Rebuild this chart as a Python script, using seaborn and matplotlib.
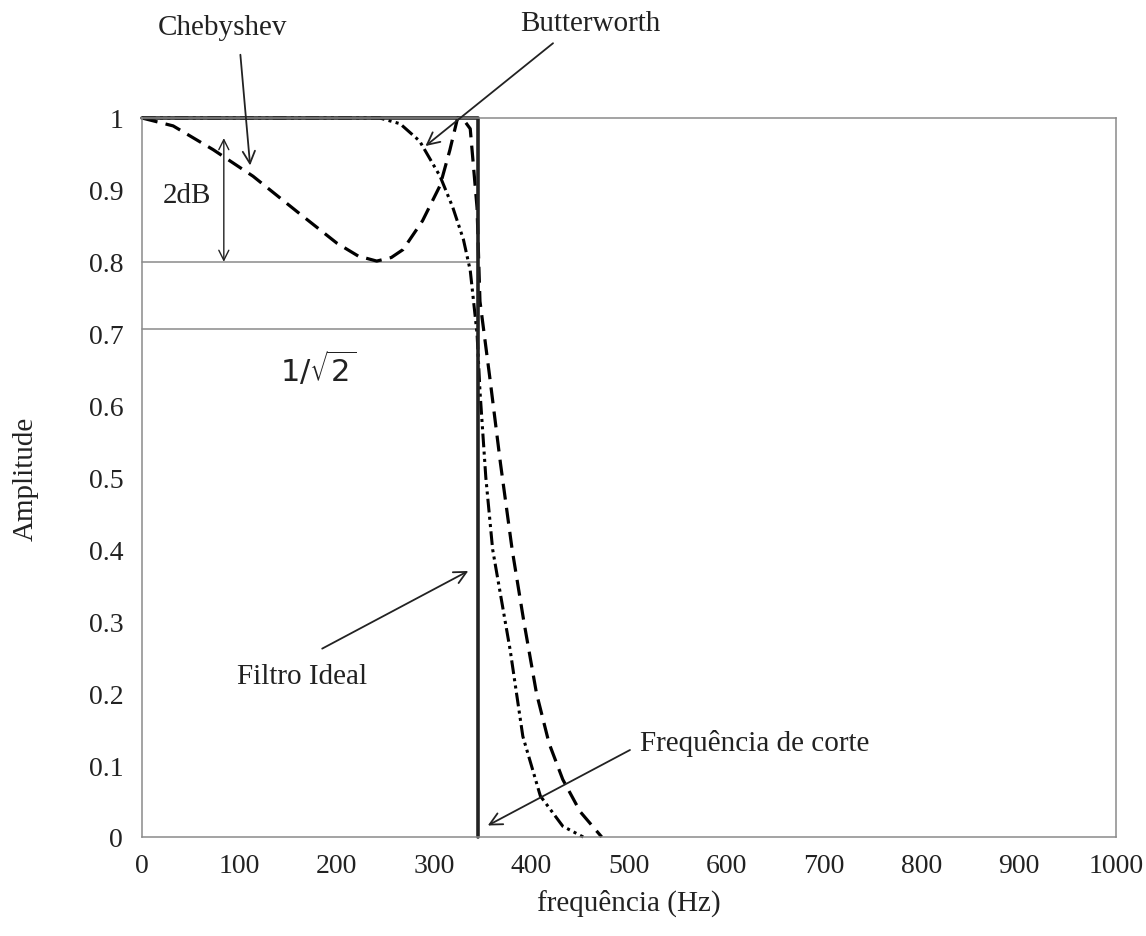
import numpy as np
import pandas as pd
import matplotlib
matplotlib.use("Agg")
import matplotlib.pyplot as plt
import seaborn as sns

# ---------------- data ----------------
cheb_freq = [0, 32, 73, 114, 159, 200, 222, 241, 256, 268, 288, 306, 316, 324,
             330, 337, 344, 347, 357, 368, 380, 392, 405, 418, 432, 450, 472]
cheb_amp = [1.0, 0.989, 0.956, 0.919, 0.870, 0.826, 0.808, 0.801, 0.806, 0.817,
            0.857, 0.906, 0.955, 1.0, 0.998, 0.985, 0.875, 0.745, 0.640, 0.52,
            0.40, 0.30, 0.20, 0.13, 0.08, 0.035, 0.0]

butt_freq = [0, 120, 244, 265, 285, 306, 319, 330, 337, 344, 347, 353, 360,
             378, 391, 409, 432, 453]
butt_amp = [1.0, 1.0, 1.0, 0.992, 0.968, 0.919, 0.876, 0.831, 0.788, 0.70,
            0.62, 0.50, 0.40, 0.26, 0.14, 0.057, 0.015, 0.0]

ideal_freq = [0, 345, 345]
ideal_amp = [1.0, 1.0, 0.0]

cutoff = 345
ref_levels = [0.8, 1 / np.sqrt(2)]

x_ticks = [0, 100, 200, 300, 400, 500, 600, 700, 800, 900, 1000]
y_ticks = [0, 0.1, 0.2, 0.3, 0.4, 0.5, 0.6, 0.7, 0.8, 0.9, 1.0]
y_ticklabels = ["0", "0.1", "0.2", "0.3", "0.4", "0.5", "0.6", "0.7", "0.8", "0.9", "1"]

df = pd.concat([
    pd.DataFrame({"freq": butt_freq, "amp": butt_amp, "filtro": "Butterworth"}),
    pd.DataFrame({"freq": cheb_freq, "amp": cheb_amp, "filtro": "Chebyshev"}),
    pd.DataFrame({"freq": ideal_freq, "amp": ideal_amp, "filtro": "Ideal"}),
], ignore_index=True)

# ---------------- style ----------------
sns.set_style("white")
plt.rcParams["font.family"] = ["Liberation Serif", "DejaVu Serif"]
plt.rcParams["mathtext.fontset"] = "dejavusans"

fig = plt.figure(figsize=(11.46, 9.37), dpi=100)
ax = fig.add_axes([142 / 1146, 1 - 838 / 937, (1116 - 142) / 1146, (838 - 119) / 937])

grey = "#8a8a8a"

# reference lines (2 dB and 1/sqrt(2))
for lvl in ref_levels:
    ax.plot([0, cutoff], [lvl, lvl], color=grey, lw=1.1, zorder=1)

sns.lineplot(data=df, x="freq", y="amp", hue="filtro", style="filtro",
             hue_order=["Butterworth", "Chebyshev", "Ideal"],
             style_order=["Butterworth", "Chebyshev", "Ideal"],
             palette={"Ideal": "#222222", "Chebyshev": "black", "Butterworth": "black"},
             dashes={"Ideal": "", "Chebyshev": (5, 2.6),
                     "Butterworth": (4.5, 1.4, 1.0, 1.4, 1.0, 1.4)},
             size="filtro", sizes={"Ideal": 2.6, "Chebyshev": 2.3, "Butterworth": 2.2},
             estimator=None, sort=False, legend=False, ax=ax)
for ln in ax.get_lines():
    ln.set_clip_on(False)

ax.set_xlim(0, 1000)
ax.set_ylim(0, 1)
ax.set_xticks(x_ticks)
ax.set_xticklabels([str(v) for v in x_ticks])
ax.set_yticks(y_ticks)
ax.set_yticklabels(y_ticklabels)

for sp in ax.spines.values():
    sp.set_visible(True)
    sp.set_color(grey)
    sp.set_linewidth(1.1)

ax.tick_params(axis="both", direction="inout", length=11, width=1.1, color=grey,
               labelsize=20, labelcolor="#222222")
ax.tick_params(axis="x", pad=6)
ax.tick_params(axis="y", pad=8)

ax.set_xlabel("frequência (Hz)", fontsize=21, color="#222222", labelpad=8)
ax.set_ylabel("Amplitude", fontsize=21, color="#222222", labelpad=36)

# ---------------- annotations ----------------
txt_kw = dict(fontsize=21, color="#222222", ha="center", va="center")
arr_kw = dict(arrowstyle="->", color="#222222", lw=1.3, mutation_scale=22,
              shrinkA=0, shrinkB=0)

ax.text(83, 1.126, "Chebyshev", **txt_kw, clip_on=False)
ax.annotate("", xy=(111, 0.934), xytext=(101, 1.088), arrowprops=arr_kw,
            annotation_clip=False)

ax.text(460, 1.132, "Butterworth", **txt_kw, clip_on=False)
ax.annotate("", xy=(291, 0.961), xytext=(422, 1.104), arrowprops=arr_kw,
            annotation_clip=False)

ax.text(46, 0.893, "2dB", **txt_kw)
ax.annotate("", xy=(84, 0.80), xytext=(84, 0.972),
            arrowprops=dict(arrowstyle="<->", color="#222222", lw=1.0,
                            mutation_scale=18, shrinkA=0, shrinkB=0))

ax.text(181, 0.652, r"$1/\sqrt{2}$", fontsize=22, color="#222222",
        ha="center", va="center")

ax.text(164, 0.224, "Filtro Ideal", **txt_kw)
ax.annotate("", xy=(335, 0.37), xytext=(185, 0.262), arrowprops=arr_kw)

ax.text(511, 0.131, "Frequência de corte", fontsize=21, color="#222222",
        ha="left", va="center")
ax.annotate("", xy=(355, 0.016), xytext=(501, 0.121), arrowprops=arr_kw)

fig.savefig("out.png", dpi=100)
